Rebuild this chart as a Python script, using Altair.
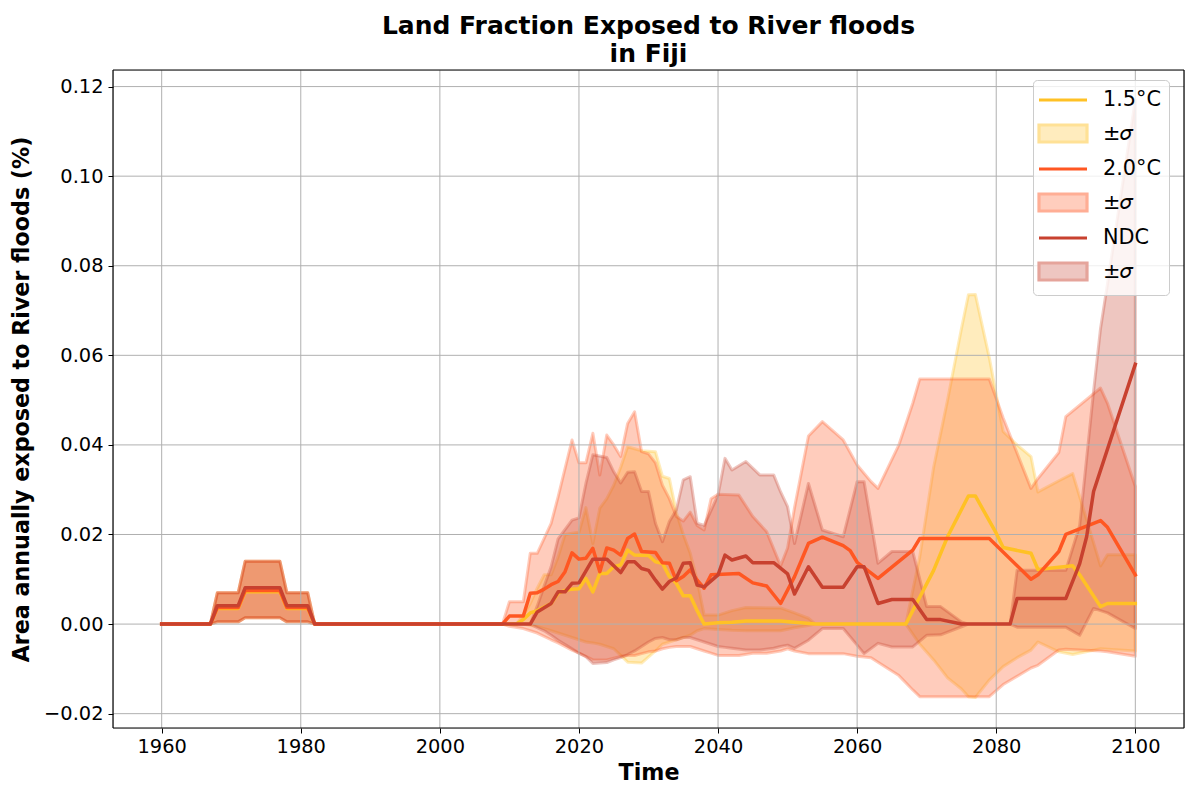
import altair as alt
import pandas as pd

# ------------------------------------------------------------------ data
X_TICKS = [1960, 1980, 2000, 2020, 2040, 2060, 2080, 2100]
Y_TICKS = [-0.02, 0.0, 0.02, 0.04, 0.06, 0.08, 0.10, 0.12]
X_DOMAIN = [1953, 2107]
Y_DOMAIN = [-0.0232, 0.1237]

# historical period (shared by all scenarios)
HIST_YEARS = [1960, 1967, 1968, 1971, 1972, 1977, 1978, 1981, 1982]
H15 = [0, 0, 0.0035, 0.0035, 0.0072, 0.0072, 0.0035, 0.0035, 0]
H20 = [0, 0, 0.0037, 0.0037, 0.0075, 0.0075, 0.0037, 0.0037, 0]
HNDC = [0, 0, 0.0041, 0.0041, 0.0081, 0.0081, 0.0041, 0.0041, 0]
HIST_BAND_HI = [0, 0, 0.007, 0.007, 0.014, 0.014, 0.007, 0.007, 0]
HIST_BAND_LO = [0, 0, 0.0005, 0.0005, 0.0014, 0.0014, 0.0005, 0.0005, 0]

# 1.5°C mean
L15_YEARS = [2011, 2012, 2013, 2014, 2016, 2017, 2018, 2019, 2020, 2021, 2022, 2023, 2024, 2025,
             2026, 2027, 2028, 2030, 2031, 2032, 2033, 2034, 2035, 2036, 2037, 2038, 2040, 2042,
             2044, 2049, 2051, 2054, 2067, 2069, 2071, 2073, 2076, 2077, 2080, 2081, 2085, 2086,
             2091, 2092, 2095, 2096, 2100]
L15_VALUES = [0, 0.001, 0.0025, 0.003, 0.0046, 0.0069, 0.0075, 0.0078, 0.0079, 0.0102, 0.0072,
              0.0113, 0.0113, 0.0128, 0.0132, 0.0165, 0.0154, 0.0153, 0.0139, 0.0136, 0.0106,
              0.0091, 0.0063, 0.0063, 0.003, 0.0, 0.0003, 0.0004, 0.0007, 0.0007, 0.0004, 0.0,
              0.0, 0.006, 0.012, 0.0195, 0.0286, 0.0286, 0.0203, 0.0171, 0.0158, 0.0122, 0.013,
              0.011, 0.0039, 0.0046, 0.0046]

# 2.0°C mean
L20_YEARS = [2009, 2010, 2012, 2013, 2014, 2015, 2016, 2017, 2018, 2019, 2020, 2021, 2022, 2023,
             2024, 2025, 2026, 2027, 2028, 2029, 2031, 2032, 2033, 2034, 2035, 2036, 2037, 2038,
             2039, 2043, 2045, 2047, 2049, 2051, 2053, 2055, 2058, 2059, 2060, 2063, 2068, 2069,
             2079, 2085, 2086, 2089, 2090, 2095, 2096, 2100]
L20_VALUES = [0, 0.0018, 0.0018, 0.0069, 0.007, 0.0078, 0.0088, 0.0095, 0.0117, 0.0159, 0.0145,
              0.0147, 0.0169, 0.0117, 0.017, 0.0165, 0.0154, 0.0191, 0.0201, 0.0162, 0.016,
              0.0137, 0.0136, 0.0097, 0.0106, 0.0121, 0.0098, 0.008, 0.011, 0.0113, 0.0092,
              0.0085, 0.0046, 0.0106, 0.018, 0.0194, 0.0175, 0.0164, 0.0138, 0.0102, 0.0165,
              0.0191, 0.0191, 0.01, 0.011, 0.0162, 0.02, 0.0231, 0.0216, 0.011]

# NDC mean
LNDC_YEARS = [2013, 2014, 2016, 2017, 2018, 2019, 2020, 2022, 2024, 2025, 2026, 2027, 2028, 2029,
              2030, 2031, 2032, 2033, 2034, 2035, 2036, 2037, 2038, 2040, 2041, 2042, 2044, 2045,
              2048, 2050, 2051, 2053, 2055, 2058, 2060, 2061, 2063, 2065, 2068, 2070, 2072, 2075,
              2082, 2083, 2090, 2092, 2093, 2094, 2100]
LNDC_VALUES = [0, 0.0027, 0.0046, 0.0072, 0.0072, 0.0091, 0.0092, 0.0145, 0.0145, 0.013, 0.0115,
               0.0139, 0.0139, 0.0124, 0.012, 0.0098, 0.0078, 0.0095, 0.0103, 0.0136, 0.0137,
               0.0087, 0.0083, 0.011, 0.0154, 0.0143, 0.0152, 0.0137, 0.0137, 0.0112, 0.0067,
               0.0128, 0.0082, 0.0082, 0.0128, 0.0128, 0.0046, 0.0055, 0.0055, 0.001, 0.001, 0.0,
               0.0, 0.0057, 0.0057, 0.0135, 0.0195, 0.0296, 0.058]

# 1.5°C ±σ
B15_YEARS = [2011, 2012, 2013, 2014, 2015, 2016, 2017, 2018, 2019, 2020, 2021, 2022, 2023, 2024,
             2025, 2026, 2027, 2029, 2031, 2032, 2033, 2034, 2035, 2036, 2037, 2038, 2040, 2042,
             2044, 2049, 2051, 2053, 2054, 2067, 2069, 2071, 2073, 2075, 2076, 2077, 2079, 2081,
             2083, 2085, 2086, 2089, 2091, 2095, 2096, 2100]
B15_HI = [0, 0.002, 0.0046, 0.008, 0.011, 0.011, 0.015, 0.02, 0.0203, 0.0205, 0.026, 0.018,
          0.0259, 0.028, 0.031, 0.035, 0.0396, 0.0387, 0.0385, 0.033, 0.0325, 0.025, 0.02,
          0.0158, 0.0098, 0.002, 0.002, 0.003, 0.0037, 0.0036, 0.0025, 0.0013, 0.0, 0.0, 0.015,
          0.035, 0.05, 0.066, 0.0735, 0.0736, 0.0595, 0.043, 0.04, 0.0374, 0.0295, 0.032,
          0.0336, 0.013, 0.0155, 0.0155]
B15_LO = [0, 0, -0.0003, -0.0005, -0.001, -0.0015, -0.002, -0.0025, -0.003, -0.0035, -0.004,
          -0.0042, -0.0045, -0.005, -0.0055, -0.007, -0.0085, -0.0087, -0.006, -0.0045, -0.004,
          -0.0035, -0.003, -0.0025, -0.0015, -0.001, -0.0012, -0.0014, -0.0015, -0.0015,
          -0.0008, -0.0003, 0, 0, -0.0045, -0.008, -0.012, -0.0145, -0.0162, -0.0164, -0.0125,
          -0.0095, -0.0075, -0.0058, -0.004, -0.0062, -0.0068, -0.0055, -0.0056, -0.006]

# 2.0°C ±σ
B20_YEARS = [2009, 2010, 2012, 2013, 2014, 2016, 2017, 2019, 2020, 2021, 2022, 2023, 2024, 2025,
             2026, 2027, 2028, 2029, 2030, 2031, 2032, 2033, 2034, 2035, 2036, 2037, 2038, 2039,
             2040, 2043, 2045, 2047, 2049, 2050, 2051, 2053, 2055, 2058, 2060, 2062, 2063, 2066,
             2068, 2069, 2079, 2081, 2085, 2086, 2089, 2090, 2095, 2096, 2100]
B20_HI = [0, 0.005, 0.005, 0.0158, 0.0158, 0.0225, 0.0284, 0.0411, 0.036, 0.036, 0.0426, 0.0333,
          0.0422, 0.04, 0.0374, 0.0448, 0.0474, 0.0385, 0.038, 0.036, 0.031, 0.028, 0.024, 0.023,
          0.025, 0.022, 0.021, 0.028, 0.029, 0.0288, 0.024, 0.0206, 0.013, 0.017, 0.026, 0.042,
          0.0452, 0.0411, 0.0355, 0.0318, 0.0303, 0.04, 0.0493, 0.0547, 0.0547, 0.046, 0.0303,
          0.0325, 0.0383, 0.0463, 0.0527, 0.0493, 0.0307]
B20_LO = [0, -0.0005, -0.001, -0.0015, -0.002, -0.0035, -0.0042, -0.0058, -0.0065, -0.0072,
          -0.008, -0.008, -0.008, -0.0076, -0.0072, -0.007, -0.007, -0.0066, -0.0062, -0.006,
          -0.0055, -0.0052, -0.005, -0.005, -0.005, -0.0055, -0.006, -0.0065, -0.007, -0.007,
          -0.0065, -0.0065, -0.006, -0.0055, -0.006, -0.0066, -0.0066, -0.0066, -0.0072,
          -0.0075, -0.0085, -0.0115, -0.0147, -0.0162, -0.0162, -0.0135, -0.0098, -0.0092,
          -0.0058, -0.0056, -0.006, -0.0062, -0.0072]

# NDC ±σ
BNDC_YEARS = [2013, 2014, 2015, 2016, 2017, 2019, 2020, 2021, 2022, 2024, 2025, 2026, 2027, 2028,
              2029, 2030, 2031, 2032, 2033, 2034, 2035, 2036, 2037, 2038, 2040, 2041, 2042, 2044,
              2046, 2048, 2049, 2050, 2051, 2053, 2055, 2058, 2060, 2061, 2063, 2065, 2068, 2070,
              2072, 2075, 2076, 2082, 2083, 2090, 2092, 2093, 2094, 2095, 2096, 2100]
BNDC_HI = [0, 0.004, 0.0085, 0.0128, 0.019, 0.0232, 0.0237, 0.0314, 0.0378, 0.0372, 0.034, 0.0315,
           0.0339, 0.034, 0.0296, 0.0296, 0.0225, 0.0184, 0.0229, 0.0255, 0.0322, 0.0329, 0.0225,
           0.022, 0.0288, 0.037, 0.0344, 0.0363, 0.0333, 0.0333, 0.0295, 0.0262, 0.018, 0.0314,
           0.021, 0.0195, 0.0318, 0.0318, 0.0136, 0.0162, 0.0162, 0.0039, 0.0039, 0.0005, 0, 0,
           0.012, 0.012, 0.022, 0.037, 0.052, 0.066, 0.076, 0.117]
BNDC_LO = [0, -0.0008, -0.0015, -0.0025, -0.0036, -0.0055, -0.0065, -0.0073, -0.0088, -0.0086,
           -0.008, -0.0075, -0.0068, -0.006, -0.005, -0.004, -0.0032, -0.003, -0.0035, -0.0035,
           -0.003, -0.003, -0.0035, -0.004, -0.005, -0.0052, -0.0054, -0.0058, -0.0058, -0.0054,
           -0.005, -0.0047, -0.0054, -0.0036, -0.001, -0.001, -0.0047, -0.0066, -0.0043, -0.0051,
           -0.0051, -0.0025, -0.0024, -0.0006, 0, 0, -0.0007, -0.0007, -0.0025, 0.0005, 0.0035,
           0.003, 0.0025, -0.001]

KEYS = ["s15", "b15", "s20", "b20", "sndc", "bndc"]
LEGEND_TEXT = {"s15": "1.5°C", "b15": "±𝜎", "s20": "2.0°C", "b20": "±𝜎", "sndc": "NDC", "bndc": "±𝜎"}

# ------------------------------------------------------------------ styles
C15, C20, CNDC = "#ffc125", "#ff5722", "#c8412f"
FONT = "DejaVu Sans"
GRID = "#b0b0b0"


def blend(hex_color, alpha):
    r, g, b = (int(hex_color[i:i + 2], 16) for i in (1, 3, 5))
    mix = [round(255 - alpha * (255 - c)) for c in (r, g, b)]
    return "#" + "".join(f"{c:02x}" for c in mix)


LINE_PATH = "M-2.4,0H2.4"
RECT_PATH = "M-2.4,-0.85H2.4V0.85H-2.4Z"
LEG_FILL = ["transparent", blend(C15, 0.3), "transparent", blend(C20, 0.3),
            "transparent", blend(CNDC, 0.3)]
LEG_STROKE = [C15, blend(C15, 0.48), C20, blend(C20, 0.48), CNDC, blend(CNDC, 0.48)]
LEG_SHAPE = [LINE_PATH, RECT_PATH, LINE_PATH, RECT_PATH, LINE_PATH, RECT_PATH]

for a, b in [(L15_YEARS, L15_VALUES), (L20_YEARS, L20_VALUES), (LNDC_YEARS, LNDC_VALUES)]:
    assert len(a) == len(b), (len(a), len(b))
for a, b, c in [(B15_YEARS, B15_HI, B15_LO), (B20_YEARS, B20_HI, B20_LO),
                (BNDC_YEARS, BNDC_HI, BNDC_LO)]:
    assert len(a) == len(b) == len(c), (len(a), len(b), len(c))

lines = [
    (pd.DataFrame({"year": HIST_YEARS + L15_YEARS, "value": H15 + L15_VALUES}), C15),
    (pd.DataFrame({"year": HIST_YEARS + L20_YEARS, "value": H20 + L20_VALUES}), C20),
    (pd.DataFrame({"year": HIST_YEARS + LNDC_YEARS, "value": HNDC + LNDC_VALUES}), CNDC),
]


def band_df(years, hi, lo):
    return pd.DataFrame({"year": HIST_YEARS + years, "hi": HIST_BAND_HI + hi,
                         "lo": HIST_BAND_LO + lo})


bands = [(band_df(B15_YEARS, B15_HI, B15_LO), C15),
         (band_df(B20_YEARS, B20_HI, B20_LO), C20),
         (band_df(BNDC_YEARS, BNDC_HI, BNDC_LO), CNDC)]

xscale = alt.Scale(domain=X_DOMAIN, nice=False, zero=False)
yscale = alt.Scale(domain=Y_DOMAIN, nice=False, zero=False)

XAXIS = alt.Axis(title="Time", values=X_TICKS, format="d", grid=False, domain=False,
                 tickSize=5, tickColor="black", tickWidth=1, labelFlush=False,
                 labelFontSize=19.4, labelFont=FONT, labelColor="black", labelPadding=4,
                 titleFontSize=22.2, titleFont=FONT, titleFontWeight="bold", titleColor="black",
                 titlePadding=6, labelOverlap=False)
YAXIS = alt.Axis(title="Area annually exposed to River floods (%)", values=Y_TICKS, format=".2f",
                 grid=False, domain=False, tickSize=5, tickColor="black", tickWidth=1,
                 labelFlush=False, labelFontSize=19.4, labelFont=FONT, labelColor="black",
                 labelPadding=5, titleFontSize=22.2, titleFont=FONT, titleFontWeight="bold",
                 titleColor="black", titlePadding=10, labelOverlap=False)

X = alt.X("year:Q", scale=xscale, axis=XAXIS)
Y = alt.Y("value:Q", scale=yscale, axis=YAXIS)

layers = []
for df, col in bands:
    layers.append(
        alt.Chart(df).mark_area(color=col, fillOpacity=0.3, stroke=col, strokeOpacity=0.3,
                                strokeWidth=3, strokeJoin="round")
        .encode(x=X, y=alt.Y("hi:Q", scale=yscale, axis=YAXIS), y2="lo:Q")
    )

layers.append(
    alt.Chart(pd.DataFrame({"year": X_TICKS})).mark_rule(color=GRID, strokeWidth=1).encode(x=X)
)
layers.append(
    alt.Chart(pd.DataFrame({"value": Y_TICKS})).mark_rule(color=GRID, strokeWidth=1).encode(y=Y)
)

for df, col in lines:
    layers.append(
        alt.Chart(df).mark_line(color=col, strokeWidth=3.5, strokeJoin="round",
                                strokeCap="square").encode(x=X, y=Y)
    )

# plot frame (matplotlib spines) at the limits of both scales
layers.append(
    alt.Chart(pd.DataFrame({"year": X_DOMAIN})).mark_rule(color="black", strokeWidth=1.2)
    .encode(x=X)
)
layers.append(
    alt.Chart(pd.DataFrame({"value": Y_DOMAIN})).mark_rule(color="black", strokeWidth=1.2)
    .encode(y=Y)
)

LABEL_EXPR = " : ".join(
    f"datum.value == '{k}' ? '{LEGEND_TEXT[k]}'" for k in ["s15", "s20", "sndc"]
) + f" : '{LEGEND_TEXT['b15']}'"

legend = alt.Legend(
    title=None, orient="none", legendX=920, legendY=10, direction="vertical",
    labelExpr=LABEL_EXPR, symbolSize=400, symbolStrokeWidth=3.2, symbolOpacity=1,
    symbolFillColor="transparent",
    symbolOffset=10, labelOffset=28, rowPadding=8.5, padding=8,
    labelFontSize=20.8, labelFont=FONT, labelColor="black", labelLimit=0,
    fillColor="rgba(255,255,255,0.8)", strokeColor="#cccccc", cornerRadius=4,
)

# legend carrier: one row per legend entry, no position -> nothing drawn in the plot
legend_df = pd.DataFrame({"key": KEYS, "year": [None] * 6, "value": [None] * 6})
layers.append(
    alt.Chart(legend_df).mark_point(opacity=1).encode(
        x=X, y=Y,
        fill=alt.Fill("key:N", scale=alt.Scale(domain=KEYS, range=LEG_FILL), legend=legend),
        stroke=alt.Stroke("key:N", scale=alt.Scale(domain=KEYS, range=LEG_STROKE), legend=legend),
        shape=alt.Shape("key:N", scale=alt.Scale(domain=KEYS, range=LEG_SHAPE), legend=legend),
    )
)

chart = (
    alt.layer(*layers)
    .properties(
        width=1071, height=658,
        autosize=alt.AutoSizeParams(type="none"),
        padding={"left": 105, "top": 62, "right": 8, "bottom": 60},
        title=alt.TitleParams(
            ["Land Fraction Exposed to River floods", "in Fiji"],
            fontSize=25, font=FONT, fontWeight="bold", color="black",
            anchor="middle", offset=2, lineHeight=28,
        ),
    )
    .configure_view(strokeWidth=0)
    .configure(font=FONT)
)

chart.save("out.html", embed_options={"renderer": "svg", "actions": False})
